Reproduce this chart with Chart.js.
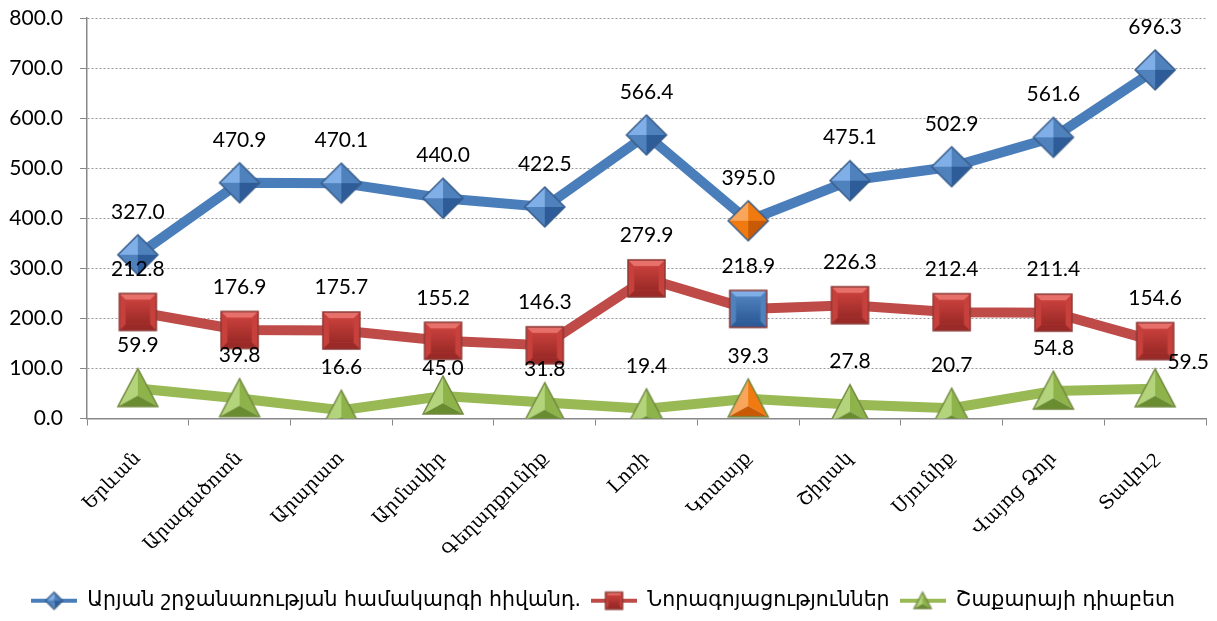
<!DOCTYPE html>
<html>
<head>
<meta charset="utf-8">
<script src="https://cdn.jsdelivr.net/npm/chart.js@4"></script>
<style>
  body { margin: 0; background: #fff; }
  #wrap { width: 1217px; height: 621px; }
</style>
</head>
<body>
<div id="wrap"><canvas id="grafica"></canvas></div>
<script>
// Categorías (marzes)
const marzer = ["Երևան", "Արագածոտն", "Արարատ", "Արմավիր", "Գեղարքունիք", "Լոռի", "Կոտայք", "Շիրակ", "Սյունիք", "Վայոց Ձոր", "Տավուշ"];
// Series
const arjan = [327.0, 470.9, 470.1, 440.0, 422.5, 566.4, 395.0, 475.1, 502.9, 561.6, 696.3];
const norago = [212.8, 176.9, 175.7, 155.2, 146.3, 279.9, 218.9, 226.3, 212.4, 211.4, 154.6];
const diabet = [59.9, 39.8, 16.6, 45.0, 31.8, 19.4, 39.3, 27.8, 20.7, 54.8, 59.5];
const nombres = ["Արյան շրջանառության համակարգի հիվանդ.", "Նորագոյացություններ", "Շաքարայի դիաբետ"];
// Eje Y
const yMin = 0, yMax = 800, yPaso = 100;
const resaltado = 6; // punto marcado en otro color (Կոտայք)

// colores
const azul = {base: '#4F81BD', light: '#80AEE6', dark: '#2D5C99', edge: '#385D8A'};
const rojo = {base: '#C8403C', light: '#E8706B', dark: '#9A2A27', edge: '#8C3836'};
const verde = {base: '#8DB34A', light: '#B3D47A', dark: '#6A8C30', edge: '#71893F'};
const naranja = {base: '#F07A10', light: '#F9A55A', dark: '#C85A05'};

// dibuja un marcador con relieve en un canvas
function marcador(forma, s, c, edge) {
  const cv = document.createElement('canvas');
  const w = s + 4;
  cv.width = w; cv.height = w;
  const g = cv.getContext('2d');
  const m = w / 2, r = s / 2;
  const poly = (pts, col) => {
    g.beginPath();
    g.moveTo(pts[0][0], pts[0][1]);
    for (let i = 1; i < pts.length; i++) g.lineTo(pts[i][0], pts[i][1]);
    g.closePath();
    g.fillStyle = col;
    g.fill();
  };
  let contorno;
  if (forma === 'diamond') {
    const t = [m, m - r], ri = [m + r, m], b = [m, m + r], l = [m - r, m], ce = [m, m];
    poly([l, t, ce], c.light);
    poly([t, ri, ce], c.base);
    poly([ri, b, ce], c.dark);
    poly([b, l, ce], c.base);
    contorno = [t, ri, b, l];
  } else if (forma === 'square') {
    const x0 = m - r, x1 = m + r, y0 = m - r, y1 = m + r, bv = s * 0.17;
    poly([[x0, y0], [x1, y0], [x1, y1], [x0, y1]], c.base);
    poly([[x0, y0], [x1, y0], [x1 - bv, y0 + bv], [x0 + bv, y0 + bv]], c.light);
    poly([[x0, y1], [x1, y1], [x1 - bv, y1 - bv], [x0 + bv, y1 - bv]], c.dark);
    const gr = g.createLinearGradient(0, y0 + bv, 0, y1 - bv);
    gr.addColorStop(0, c.base); gr.addColorStop(1, c.dark);
    poly([[x0 + bv, y0 + bv], [x1 - bv, y0 + bv], [x1 - bv, y1 - bv], [x0 + bv, y1 - bv]], gr);
    contorno = [[x0, y0], [x1, y0], [x1, y1], [x0, y1]];
  } else {
    const ap = [m, m - r], bl = [m - r, m + r * 0.9], br = [m + r, m + r * 0.9], ce = [m, m + r * 0.35];
    poly([ap, bl, ce], c.light);
    poly([ap, br, ce], c.base);
    poly([bl, br, ce], c.dark);
    contorno = [ap, br, bl];
  }
  g.beginPath();
  g.moveTo(contorno[0][0], contorno[0][1]);
  contorno.slice(1).forEach(p => g.lineTo(p[0], p[1]));
  g.closePath();
  g.lineWidth = 1.5;
  g.strokeStyle = edge;
  g.stroke();
  return cv;
}

// icono de leyenda: línea + marcador
function iconoLeyenda(forma, linea, c) {
  const cv = document.createElement('canvas');
  cv.width = 46; cv.height = 22;
  const g = cv.getContext('2d');
  g.strokeStyle = linea;
  g.lineWidth = 4;
  g.beginPath(); g.moveTo(0, 11); g.lineTo(46, 11); g.stroke();
  const mk = marcador(forma, 17, c, c.edge);
  g.drawImage(mk, 23 - mk.width / 2, 11 - mk.height / 2);
  return cv;
}

const estilos = (forma, s, c) => marzer.map((_, i) =>
  i === resaltado ? marcador(forma, s, naranja, c.edge) : marcador(forma, s, c, c.edge));

const estiloRojo = marzer.map((_, i) =>
  i === resaltado ? marcador('square', 37, azul, rojo.edge) : marcador('square', 37, rojo, rojo.edge));

const iconos = [
  iconoLeyenda('diamond', '#4A7EBB', azul),
  iconoLeyenda('square', '#BE4B48', rojo),
  iconoLeyenda('triangle', '#98B954', verde)
];

// desplazamientos especiales de etiquetas (serie-indice)
const ajusteEtiqueta = { '2-3': [0, 15], '2-4': [0, 10], '2-10': [33, 17] };

const etiquetasDatos = {
  id: 'etiquetasDatos',
  afterDatasetsDraw(chart) {
    const ctx = chart.ctx;
    ctx.save();
    ctx.font = '21px Lato';
    ctx.fillStyle = '#000';
    ctx.textAlign = 'center';
    ctx.textBaseline = 'middle';
    chart.data.datasets.forEach((ds, d) => {
      chart.getDatasetMeta(d).data.forEach((p, i) => {
        const aj = ajusteEtiqueta[d + '-' + i] || [0, 0];
        ctx.fillText(ds.data[i].toFixed(1), p.x + aj[0], p.y - 43 + aj[1]);
      });
    });
    ctx.restore();
  }
};

new Chart(document.querySelector('#grafica'), {
  type: 'line',
  data: {
    labels: marzer,
    datasets: [
      {
        label: nombres[0],
        data: arjan,
        borderColor: '#4A7EBB',
        borderWidth: 10,
        pointStyle: estilos('diamond', 40, azul),
        pointRadius: 20,
        tension: 0
      },
      {
        label: nombres[1],
        data: norago,
        borderColor: '#BE4B48',
        borderWidth: 10,
        pointStyle: estiloRojo,
        pointRadius: 20,
        tension: 0
      },
      {
        label: nombres[2],
        data: diabet,
        borderColor: '#98B954',
        borderWidth: 10,
        pointStyle: estilos('triangle', 40, verde),
        pointRadius: 20,
        tension: 0
      }
    ]
  },
  options: {
    responsive: true,
    maintainAspectRatio: false,
    animation: false,
    layout: { autoPadding: false, padding: { top: 18, right: 11, left: 0, bottom: 0 } },
    plugins: {
      tooltip: { enabled: false },
      legend: {
        position: 'bottom',
        labels: {
          usePointStyle: true,
          pointStyleWidth: 46,
          color: '#000',
          padding: 10,
          font: { family: 'DejaVu Sans', size: 20.5 },
          generateLabels(chart) {
            const items = Chart.defaults.plugins.legend.labels.generateLabels(chart);
            items.forEach((it, k) => { it.pointStyle = iconos[k]; });
            return items;
          }
        }
      }
    },
    scales: {
      x: {
        offset: true,
        grid: { display: true, offset: true, drawOnChartArea: false, drawTicks: true, tickLength: 7, color: '#888' },
        border: { color: '#888', width: 1.5 },
        ticks: {
          autoSkip: false,
          maxRotation: 45,
          minRotation: 45,
          padding: 22,
          color: '#000',
          font: { family: 'DejaVu Serif', size: 19 }
        },
        afterFit(scale) { scale.height = 162; scale.paddingRight = 0; scale.paddingLeft = 0; }
      },
      y: {
        min: yMin,
        max: yMax,
        ticks: {
          stepSize: yPaso,
          padding: 17,
          color: '#000',
          font: { family: 'Lato', size: 21 },
          callback: v => v.toFixed(1)
        },
        grid: { color: '#999', tickLength: 7, tickColor: '#888', tickBorderDash: [], lineWidth: 1 },
        border: { color: '#888', width: 1.5, dash: [2, 2] },
        afterFit(scale) { scale.width = 87; scale.paddingTop = 0; scale.paddingBottom = 0; }
      }
    }
  },
  plugins: [etiquetasDatos]
});
</script>
</body>
</html>
